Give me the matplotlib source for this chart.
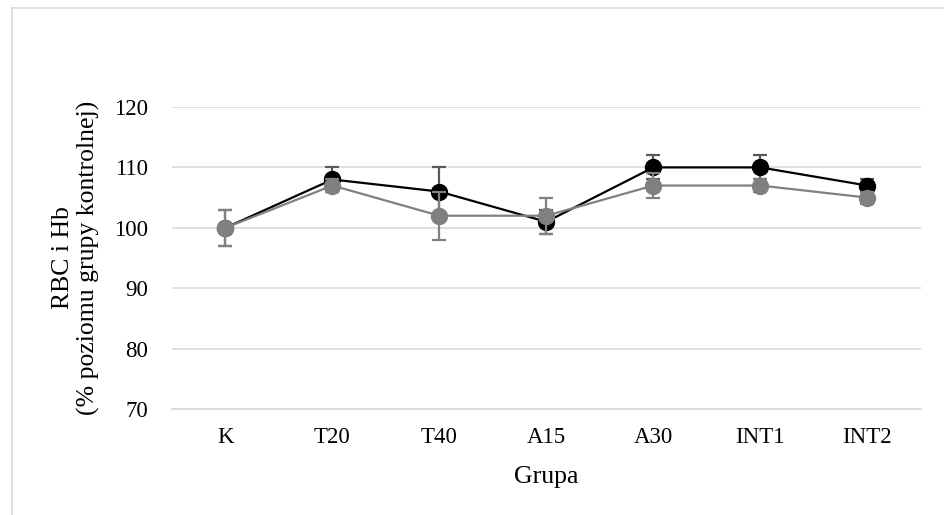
import matplotlib
matplotlib.use("Agg")
import matplotlib.pyplot as plt
from matplotlib.lines import Line2D

categories = ["K", "T20", "T40", "A15", "A30", "INT1", "INT2"]
rbc = [100, 108, 106, 101, 110, 110, 107]
rbc_err = [3, 2, 4, 2, 2, 2, 1]
hb = [100, 107, 102, 102, 107, 107, 105]
hb_err = [3, 1, 4, 3, 2, 1, 1]
yticks = [70, 80, 90, 100, 110, 120]

plt.rcParams['font.family'] = ['Liberation Serif', 'DejaVu Serif']

fig = plt.figure(figsize=(9.45, 5.15), dpi=100)
ax = fig.add_axes([0.182, 0.2058, 0.7923, 0.5864])

x = list(range(len(categories)))
ax.errorbar(x, rbc, yerr=rbc_err, color='black', marker='o', markersize=11.5,
            linewidth=1.6, ecolor='#595959', elinewidth=1.6, capsize=5, capthick=1.6, zorder=3)
ax.errorbar(x, hb, yerr=hb_err, color='#808080', marker='o', markersize=11.5,
            linewidth=1.6, ecolor='#808080', elinewidth=1.6, capsize=5, capthick=1.6, zorder=4)

ax.set_xlim(-0.5, len(categories) - 0.5)
ax.set_ylim(70, 120)
ax.set_yticks(yticks)
ax.set_xticks(x)
ax.set_xticklabels(categories)
ax.grid(axis='y', color='#d9d9d9', linewidth=1.2)
ax.set_axisbelow(True)
for s in ['top', 'right', 'left']:
    ax.spines[s].set_visible(False)
ax.spines['bottom'].set_color('#d9d9d9')
ax.spines['bottom'].set_linewidth(1.2)
ax.tick_params(axis='both', length=0, labelsize=16.5, colors='#000000')
ax.tick_params(axis='y', pad=17)
ax.tick_params(axis='x', pad=13)
ax.set_xlabel("Grupa", fontsize=18.5, labelpad=13)
ax.set_ylabel("RBC i Hb\n(% poziomu grupy kontrolnej)", fontsize=18.5, labelpad=10, linespacing=1.2)

# chart border (top and left visible)
fig.add_artist(Line2D([12/945, 1.0], [1-8/515, 1-8/515], color='#d9d9d9', linewidth=1.2, transform=fig.transFigure))
fig.add_artist(Line2D([12/945, 12/945], [0, 1-8/515], color='#d9d9d9', linewidth=1.2, transform=fig.transFigure))

fig.savefig("out.png", dpi=100)
